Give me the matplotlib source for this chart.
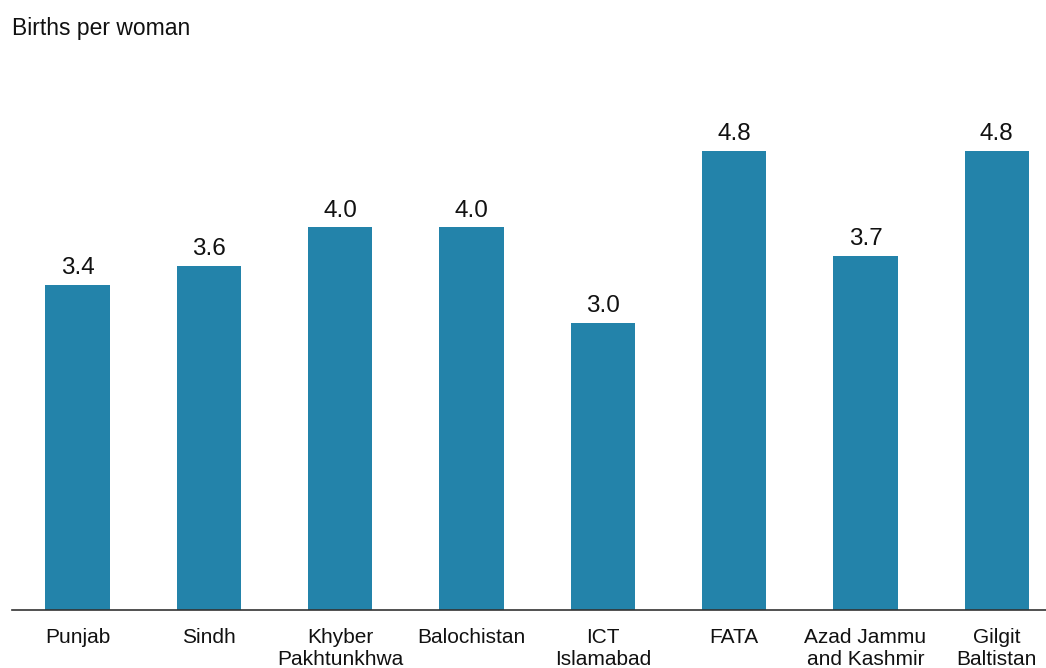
import matplotlib
matplotlib.use("Agg")
import matplotlib.pyplot as plt

regiones = ["Punjab", "Sindh", "Khyber\nPakhtunkhwa", "Balochistan", "ICT\nIslamabad",
            "FATA", "Azad Jammu\nand Kashmir", "Gilgit\nBaltistan"]
nacimientos = [3.4, 3.6, 4.0, 4.0, 3.0, 4.8, 3.7, 4.8]

plt.rcParams['font.family'] = ['Liberation Sans', 'DejaVu Sans']

fig = plt.figure(figsize=(10.46, 6.68), dpi=100, facecolor='white')
# ejes colocados a mano para que coincidan con la referencia
ax = fig.add_axes([12/1046, (668-610)/668, (1046-12)/1046, (610-36)/668])

x = range(len(regiones))
barras = ax.bar(x, nacimientos, width=0.49, color='#2383AA')

for barra, v in zip(barras, nacimientos):
    ax.text(barra.get_x() + barra.get_width()/2, v + 0.06, f"{v:.1f}",
            ha='center', va='bottom', fontsize=17.5, color='#111111')

ax.set_xlim(-0.5, 7.375)
ax.set_ylim(0, 6)
ax.set_xticks(list(x))
ax.set_xticklabels(regiones, fontsize=15, color='#111111', linespacing=1.18)
ax.tick_params(axis='x', length=0, pad=13)
ax.set_yticks([])

for lado in ['top', 'right', 'left']:
    ax.spines[lado].set_visible(False)
ax.spines['bottom'].set_color('#333333')
ax.spines['bottom'].set_linewidth(1.2)

fig.text(12/1046, 1 - 28/668, "Births per woman", ha='left', va='center',
         fontsize=16.5, color='#111111')

plt.savefig('out.png', dpi=100)
plt.close()
